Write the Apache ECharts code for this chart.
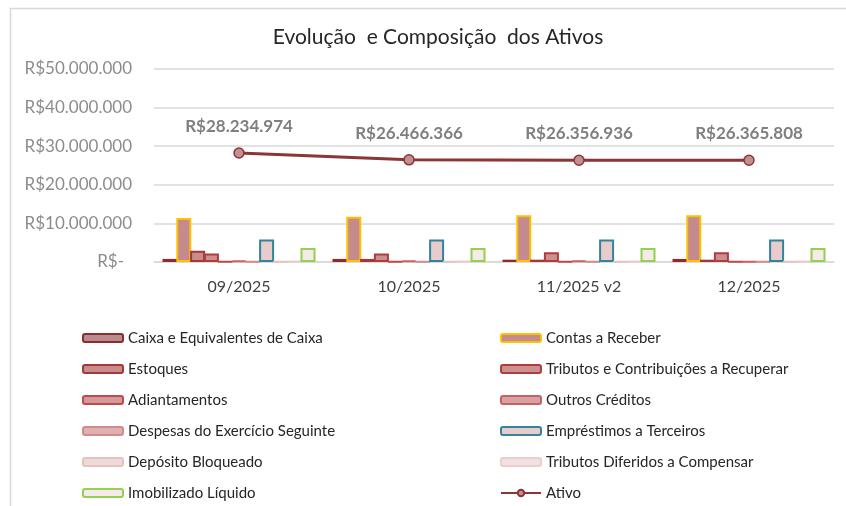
<!DOCTYPE html>
<html>
<head>
<meta charset="utf-8">
<script src="https://cdn.jsdelivr.net/npm/echarts@6/dist/echarts.min.js"></script>
<style>
  html, body { margin: 0; padding: 0; background: #fff; }
  #chart { width: 846px; height: 506px; }
</style>
</head>
<body>
<div id="chart"></div>
<script>
var periodos = ['09/2025', '10/2025', '11/2025 v2', '12/2025'];

// valores em R$ (estimados a partir do gráfico)
var caixa = [800000, 800000, 600000, 800000];
var contasReceber = [11400000, 11700000, 12100000, 12100000];
var estoques = [2900000, 800000, 600000, 600000];
var tributosRecuperar = [2200000, 2200000, 2500000, 2500000];
var adiantamentos = [100000, 100000, 100000, 100000];
var outrosCreditos = [400000, 400000, 400000, 150000];
var despesasExercicio = [100000, 100000, 100000, 100000];
var emprestimos = [5800000, 5800000, 5800000, 5800000];
var depositoBloqueado = [100000, 100000, 100000, 100000];
var tributosDiferidos = [300000, 300000, 300000, 300000];
var imobilizado = [3600000, 3600000, 3600000, 3600000];
var ativo = [28234974, 26466366, 26356936, 26365808];

var yTicks = { min: 0, max: 50000000, interval: 10000000 };

function brl(v) {
  if (!v) return 'R$-';
  var s = Math.round(v).toString();
  return 'R$' + s.replace(/\B(?=(\d{3})+(?!\d))/g, '.');
}

var barDefs = [
  ['Caixa e Equivalentes de Caixa', caixa, '#b98a8e', '#8c2d2d'],
  ['Contas a Receber', contasReceber, '#c48a8d', '#ffc000'],
  ['Estoques', estoques, '#c98b8c', '#a33838'],
  ['Tributos e Contribuições a Recuperar', tributosRecuperar, '#cc9091', '#b03c3c'],
  ['Adiantamentos', adiantamentos, '#d39899', '#c04a4a'],
  ['Outros Créditos', outrosCreditos, '#d8a2a2', '#c86262'],
  ['Despesas do Exercício Seguinte', despesasExercicio, '#deb0b0', '#d38a8a'],
  ['Empréstimos a Terceiros', emprestimos, '#e8cbcb', '#31849b'],
  ['Depósito Bloqueado', depositoBloqueado, '#efdada', '#e6c2c2'],
  ['Tributos Diferidos a Compensar', tributosDiferidos, '#f2e1e1', '#ebcdcd'],
  ['Imobilizado Líquido', imobilizado, '#f5e9e9', '#92d050']
];

var series = barDefs.map(function (d) {
  return {
    name: d[0],
    type: 'bar',
    data: d[1],
    barWidth: 15,
    barGap: '-8%',
    itemStyle: { color: d[2], borderColor: d[3], borderWidth: 2 }
  };
});

series.push({
  name: 'Ativo',
  type: 'line',
  data: ativo,
  symbol: 'circle',
  symbolSize: 10,
  z: 5,
  lineStyle: { color: '#8b3535', width: 3 },
  itemStyle: { color: '#c09092', borderColor: '#8b3535', borderWidth: 1.5 },
  label: {
    show: true,
    position: 'top',
    distance: 12,
    formatter: function (p) { return brl(p.value); },
    color: '#7f7f7f',
    fontWeight: 'bold',
    fontSize: 17,
    fontFamily: 'Lato'
  }
});

var legendStyle = {
  orient: 'vertical',
  height: 200,
  padding: 0,
  itemWidth: 40,
  itemHeight: 8,
  itemGap: 13,
  textStyle: { color: '#262626', fontSize: 15, fontFamily: 'Lato', lineHeight: 18 }
};

var chart = echarts.init(document.getElementById('chart'));
chart.setOption({
  animation: false,
  backgroundColor: '#fff',
  title: {
    text: 'Evolução  e Composição  dos Ativos',
    left: 433,
    textAlign: 'center',
    top: 22,
    textStyle: { color: '#262626', fontSize: 21, fontWeight: 'normal', fontFamily: 'Lato' }
  },
  graphic: [{
    type: 'rect',
    shape: { x: 10.5, y: 8.5, width: 900, height: 600 },
    style: { fill: 'none', stroke: '#d9d9d9', lineWidth: 1.5 },
    silent: true
  }],
  legend: [
    Object.assign({ left: 82, top: 329,
      data: ['Caixa e Equivalentes de Caixa', 'Estoques', 'Adiantamentos', 'Despesas do Exercício Seguinte', 'Depósito Bloqueado', 'Imobilizado Líquido'] }, legendStyle),
    Object.assign({ left: 500, top: 329,
      data: ['Contas a Receber', 'Tributos e Contribuições a Recuperar', 'Outros Créditos', 'Empréstimos a Terceiros', 'Tributos Diferidos a Compensar', 'Ativo'] }, legendStyle)
  ],
  grid: { left: 154, right: 12, top: 69, bottom: 244, containLabel: false },
  xAxis: {
    type: 'category',
    data: periodos,
    axisLine: { show: true, lineStyle: { color: '#d9d9d9', width: 1.5 } },
    axisTick: { show: false },
    axisLabel: { color: '#404040', fontSize: 16, margin: 17, fontFamily: 'Lato' }
  },
  yAxis: {
    type: 'value',
    min: yTicks.min,
    max: yTicks.max,
    interval: yTicks.interval,
    axisLine: { show: false },
    axisTick: { show: false },
    splitLine: { lineStyle: { color: '#d9d9d9', width: 1.5 } },
    axisLabel: {
      color: '#8c8c8c',
      fontSize: 17,
      margin: 22,
      fontFamily: 'Lato',
      formatter: function (v) { return v === 0 ? '{z|R$-}' : brl(v); },
      rich: { z: { color: '#8c8c8c', fontSize: 17, fontFamily: 'Lato', padding: [0, 8, 0, 0] } }
    }
  },
  series: series
});
</script>
</body>
</html>
